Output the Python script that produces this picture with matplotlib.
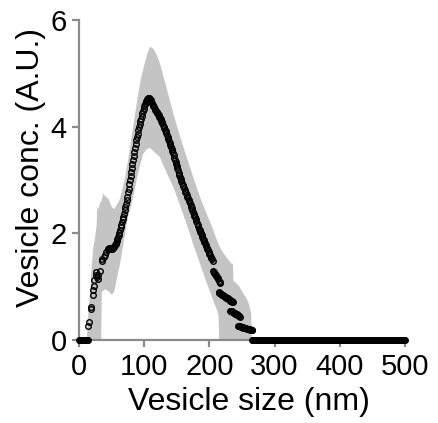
import numpy as np
import matplotlib
matplotlib.use("Agg")
import matplotlib.pyplot as plt

plt.rcParams['font.family'] = ['Liberation Sans', 'DejaVu Sans']

# zero-concentration bins at both ends (1 nm bins)
zero_lo_size = np.arange(0, 15)
zero_hi_size = np.arange(266, 501)

# scattered points below 45 nm
early_size = [14.3, 15.0, 18.4, 19.0, 21.0, 21.5, 23.0, 23.5, 25.6, 26.6,
              28.0, 29.0, 29.5, 32.0, 34.8, 36.0, 38.0, 40.0, 42.0]
early_conc = [0.27, 0.33, 0.59, 0.62, 0.84, 0.93, 1.02, 1.12, 1.21, 1.27,
              1.18, 1.15, 1.22, 1.30, 1.49, 1.52, 1.55, 1.59, 1.65]

# main curve, 44-205 nm in 1 nm bins
main_size = np.arange(44, 206)
main_conc = [
    1.70, 1.71, 1.72, 1.72, 1.72, 1.71, 1.71, 1.71, 1.72, 1.74,
    1.76, 1.78, 1.80, 1.82, 1.85, 1.89, 1.93, 1.97, 2.01, 2.06,
    2.11, 2.16, 2.21, 2.26, 2.31, 2.37, 2.43, 2.49, 2.55, 2.62,
    2.69, 2.77, 2.84, 2.92, 3.00, 3.07, 3.15, 3.22, 3.30, 3.37,
    3.45, 3.52, 3.60, 3.67, 3.75, 3.81, 3.87, 3.93, 3.99, 4.05,
    4.10, 4.15, 4.20, 4.25, 4.30, 4.34, 4.38, 4.42, 4.45, 4.48,
    4.50, 4.52, 4.53, 4.53, 4.53, 4.52, 4.50, 4.47, 4.44, 4.41,
    4.38, 4.36, 4.34, 4.32, 4.29, 4.27, 4.25, 4.23, 4.21, 4.18,
    4.16, 4.14, 4.11, 4.09, 4.06, 4.03, 4.00, 3.97, 3.94, 3.91,
    3.88, 3.84, 3.81, 3.77, 3.74, 3.70, 3.66, 3.62, 3.58, 3.54,
    3.50, 3.46, 3.42, 3.38, 3.34, 3.30, 3.26, 3.22, 3.18, 3.14,
    3.10, 3.06, 3.02, 2.98, 2.95, 2.91, 2.88, 2.85, 2.81, 2.78,
    2.75, 2.72, 2.69, 2.66, 2.63, 2.60, 2.57, 2.54, 2.50, 2.47,
    2.43, 2.40, 2.37, 2.33, 2.30, 2.26, 2.23, 2.20, 2.16, 2.13,
    2.09, 2.06, 2.03, 2.00, 1.96, 1.93, 1.90, 1.87, 1.84, 1.82,
    1.79, 1.76, 1.73, 1.70, 1.68, 1.65, 1.62, 1.59, 1.56, 1.54,
    1.51, 1.48,
]

# tail segments above 205 nm (four short runs)
tail1_size = [205.5, 206.5, 207.5, 208.5, 209.5, 210.5, 211.5, 212.5, 213.5, 214.5, 215.5, 216.5]
tail1_conc = [1.30, 1.28, 1.26, 1.24, 1.22, 1.20, 1.18, 1.16, 1.14, 1.11, 1.09, 1.07]
tail2_size = np.arange(214, 237)
tail2_conc = [0.90, 0.89, 0.88, 0.87, 0.86, 0.85, 0.85, 0.84, 0.83, 0.82, 0.81, 0.80,
              0.79, 0.79, 0.78, 0.77, 0.76, 0.75, 0.74, 0.73, 0.73, 0.72, 0.71]
tail3_size = np.arange(232, 248)
tail3_conc = [0.55, 0.54, 0.54, 0.53, 0.52, 0.51, 0.51, 0.50, 0.49, 0.48, 0.48, 0.47,
              0.46, 0.45, 0.45, 0.44]
tail4_size = np.arange(244, 267)
tail4_conc = [0.27, 0.27, 0.26, 0.26, 0.25, 0.25, 0.24, 0.24, 0.23, 0.23, 0.23, 0.22,
              0.22, 0.21, 0.21, 0.21, 0.20, 0.20, 0.20, 0.19, 0.19, 0.18, 0.18]

# SEM band edges
upper_size = [12, 14, 17, 20, 22, 25, 27, 28, 30, 32, 35, 37, 40, 45, 50, 54, 58, 62,
              65, 70, 75, 80, 85, 90, 95, 100, 105, 109, 115, 120, 124, 130, 135, 140,
              145, 150, 155, 160, 165, 170, 175, 180, 185, 190, 195, 200, 206, 210,
              216, 222, 228, 234, 236, 237, 240, 246, 252, 256, 260, 264, 265]
upper_conc = [0.0, 0.45, 0.93, 1.45, 1.74, 1.95, 2.15, 2.50, 2.45, 2.56, 2.62, 2.75, 2.70,
              2.65, 2.50, 2.45, 2.53, 2.62, 2.75, 3.00, 3.35, 3.75, 4.15, 4.55, 4.90, 5.15,
              5.38, 5.50, 5.45, 5.32, 5.19, 4.92, 4.69, 4.46, 4.23, 4.02, 3.82, 3.62, 3.43,
              3.25, 3.06, 2.88, 2.70, 2.54, 2.39, 2.24, 2.06, 1.92, 1.74, 1.62, 1.52, 1.43,
              1.43, 1.10, 1.08, 1.00, 0.87, 0.80, 0.70, 0.50, 0.0]
lower_size = [12, 34, 35, 40, 45, 50, 54, 58, 63, 70, 75, 80, 83, 90, 98, 104, 109,
              116, 124, 135, 145, 155, 165, 175, 185, 195, 206, 212, 214, 215]
lower_conc = [0.0, 0.0, 0.90, 0.95, 0.92, 0.85, 0.90, 1.15, 1.43, 1.95, 2.30, 2.52, 2.68,
              3.10, 3.48, 3.58, 3.60, 3.52, 3.43, 3.12, 2.86, 2.52, 2.18, 1.80, 1.45, 1.10,
              0.74, 0.55, 0.45, 0.0]

x_ticks = [0, 100, 200, 300, 400, 500]
y_ticks = [0, 2, 4, 6]

fig = plt.figure(figsize=(4.38, 4.23), dpi=100)
ax = fig.add_axes([0.1804, 0.1962, 0.7443, 0.7565])

band_x = np.r_[upper_size, lower_size[::-1]]
band_y = np.r_[upper_conc, lower_conc[::-1]]
ax.fill(band_x, band_y, color='#c4c4c4', lw=0, zorder=1)

mk = dict(marker='o', ms=4.0, mfc='none', mec='black', mew=1.0, ls='none',
          clip_on=False, zorder=5)
ax.plot(zero_lo_size, np.zeros(len(zero_lo_size)), **mk)
ax.plot(zero_hi_size, np.zeros(len(zero_hi_size)), **mk)
ax.plot(early_size, early_conc, **mk)
ax.plot(main_size, main_conc, **mk)
for sx, sy in [(tail1_size, tail1_conc), (tail2_size, tail2_conc),
               (tail3_size, tail3_conc), (tail4_size, tail4_conc)]:
    ax.plot(sx, sy, **mk)

ax.set_xlim(0, 500)
ax.set_ylim(0, 6)
ax.set_xticks(x_ticks)
ax.set_yticks(y_ticks)

for s in ['top', 'right']:
    ax.spines[s].set_visible(False)
for s in ['left', 'bottom']:
    ax.spines[s].set_color('#8a8a8a')
    ax.spines[s].set_linewidth(1.6)
ax.tick_params(direction='out', length=5, width=1.6, color='#8a8a8a',
               labelsize=21, labelcolor='black', pad=4)

ax.set_xlabel('Vesicle size (nm)', fontsize=23)
ax.set_ylabel('Vesicle conc. (A.U.)', fontsize=23)
ax.xaxis.set_label_coords(0.52, -0.148)
ax.yaxis.set_label_coords(-0.10, 0.54)

fig.savefig('out.png', dpi=100)
